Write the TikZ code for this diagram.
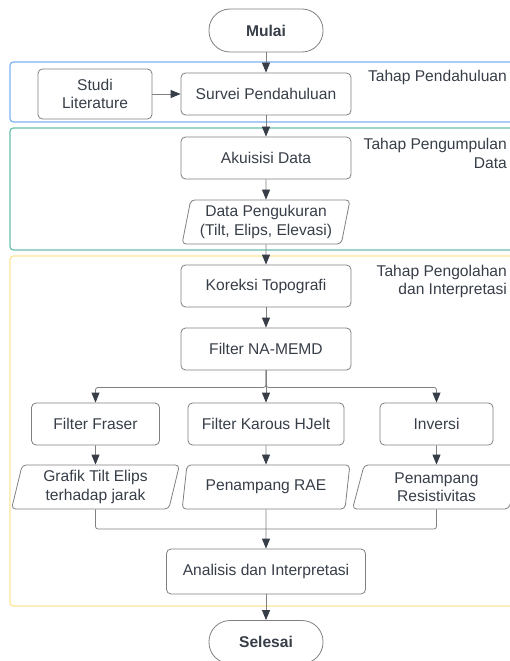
\documentclass[tikz,border=0pt]{standalone}
\usepackage{fontspec}
\setmainfont{Liberation Sans}
\usetikzlibrary{arrows.meta,positioning,shapes.geometric}
\definecolor{LineGray}{RGB}{128,128,128}
\definecolor{TextGray}{RGB}{55,62,72}
\definecolor{PhaseBlue}{RGB}{125,178,240}
\definecolor{PhaseGreen}{RGB}{105,190,172}
\definecolor{PhaseYellow}{RGB}{252,230,150}
\tikzset{
  procbox/.style={draw=LineGray,line width=0.8bp,rounded corners=1.6mm,
    minimum width=170bp,minimum height=42bp,align=center,inner sep=2bp,
    text=TextGray,font=\fontsize{15.6bp}{18.5bp}\selectfont},
  iobox/.style={draw=LineGray,line width=0.8bp,rounded corners=1.4mm,
    trapezium,trapezium left angle=78,trapezium right angle=102,
    trapezium stretches=true,minimum width=168bp,minimum height=44bp,
    align=center,inner sep=2bp,text=TextGray,
    font=\fontsize{15.6bp}{18.5bp}\selectfont},
  terminator/.style={draw=LineGray,line width=0.8bp,rounded corners=21bp,
    minimum width=114bp,minimum height=43bp,text=TextGray,
    font=\fontsize{15.6bp}{18.5bp}\selectfont\bfseries},
  phaseframe/.style={line width=1.2bp,rounded corners=1.2mm},
  phaselabel/.style={anchor=east,align=right,inner sep=0pt,text=TextGray,
    font=\fontsize{15.6bp}{18.5bp}\selectfont},
  flowlink/.style={draw=LineGray,line width=0.8bp,rounded corners=2.5bp},
  flowarrow/.style={flowlink,
    -{Triangle[length=10bp,width=8bp,color=TextGray]}},
}
\begin{document}
\begin{tikzpicture}[x=1bp,y=-1bp]
  \useasboundingbox (0,0) rectangle (510,661);
  \draw[phaseframe,draw=PhaseBlue] (10,62) rectangle (540,122);
  \draw[phaseframe,draw=PhaseGreen] (10,128) rectangle (540,250);
  \draw[phaseframe,draw=PhaseYellow] (10,256) rectangle (540,606);
  \node[phaselabel] (lblpendahuluan) at (507,77) {Tahap Pendahuluan};
  \node[phaselabel] (lblpengumpulan) at (507,153.5) {Tahap Pengumpulan\\Data};
  \node[phaselabel] (lblpengolahan) at (507,281.5) {Tahap Pengolahan\\dan Interpretasi};

  \node[terminator] (mulai) at (266,30.5) {Mulai};
  \node[procbox] (survei) at (266,94) {Survei Pendahuluan};
  \node[procbox,minimum width=114bp,minimum height=50bp] (studi) at (95,94) {Studi\\Literature};
  \node[procbox] (akuisisi) at (266,158) {Akuisisi Data};
  \node[iobox] (ukur) at (266,222) {Data Pengukuran\\(Tilt, Elips, Elevasi)};
  \node[procbox] (koreksi) at (266,286) {Koreksi Topografi};
  \node[procbox] (memd) at (266,349) {Filter NA-MEMD};
  \node[procbox,minimum width=128bp] (fraser) at (95.5,424) {Filter Fraser};
  \node[procbox,minimum width=156bp] (karous) at (266,424) {Filter Karous HJelt};
  \node[procbox,minimum width=113bp] (inversi) at (436.5,424) {Inversi};
  \node[iobox] (grafik) at (95.5,487) {Grafik Tilt Elips\\terhadap jarak};
  \node[iobox] (rae) at (266,487) {Penampang RAE};
  \node[iobox] (resist) at (436.5,487) {Penampang\\Resistivitas};
  \node[procbox,minimum width=199bp,minimum height=45bp] (analisis) at (266,571.5) {Analisis dan Interpretasi};
  \node[terminator] (selesai) at (266,642) {Selesai};
  \coordinate (merge) at (266,529);

  \draw[flowarrow] (mulai) -- (survei);
  \draw[flowarrow] (studi) -- (survei);
  \draw[flowarrow] (survei) -- (akuisisi);
  \draw[flowarrow] (akuisisi) -- (ukur);
  \draw[flowarrow] (ukur) -- (koreksi);
  \draw[flowarrow] (koreksi) -- (memd);
  \draw[flowarrow] (memd.south) -- ++(0,17) -| (fraser.north);
  \draw[flowarrow] (memd) -- (karous);
  \draw[flowarrow] (memd.south) -- ++(0,17) -| (inversi.north);
  \draw[flowarrow] (fraser) -- (grafik);
  \draw[flowarrow] (karous) -- (rae);
  \draw[flowarrow] (inversi) -- (resist);
  \draw[flowlink] (grafik.south) |- (merge);
  \draw[flowlink] (resist.south) |- (merge);
  \draw[flowarrow] (rae) -- (analisis);
  \draw[flowarrow] (analisis) -- (selesai);
\end{tikzpicture}
\end{document}
